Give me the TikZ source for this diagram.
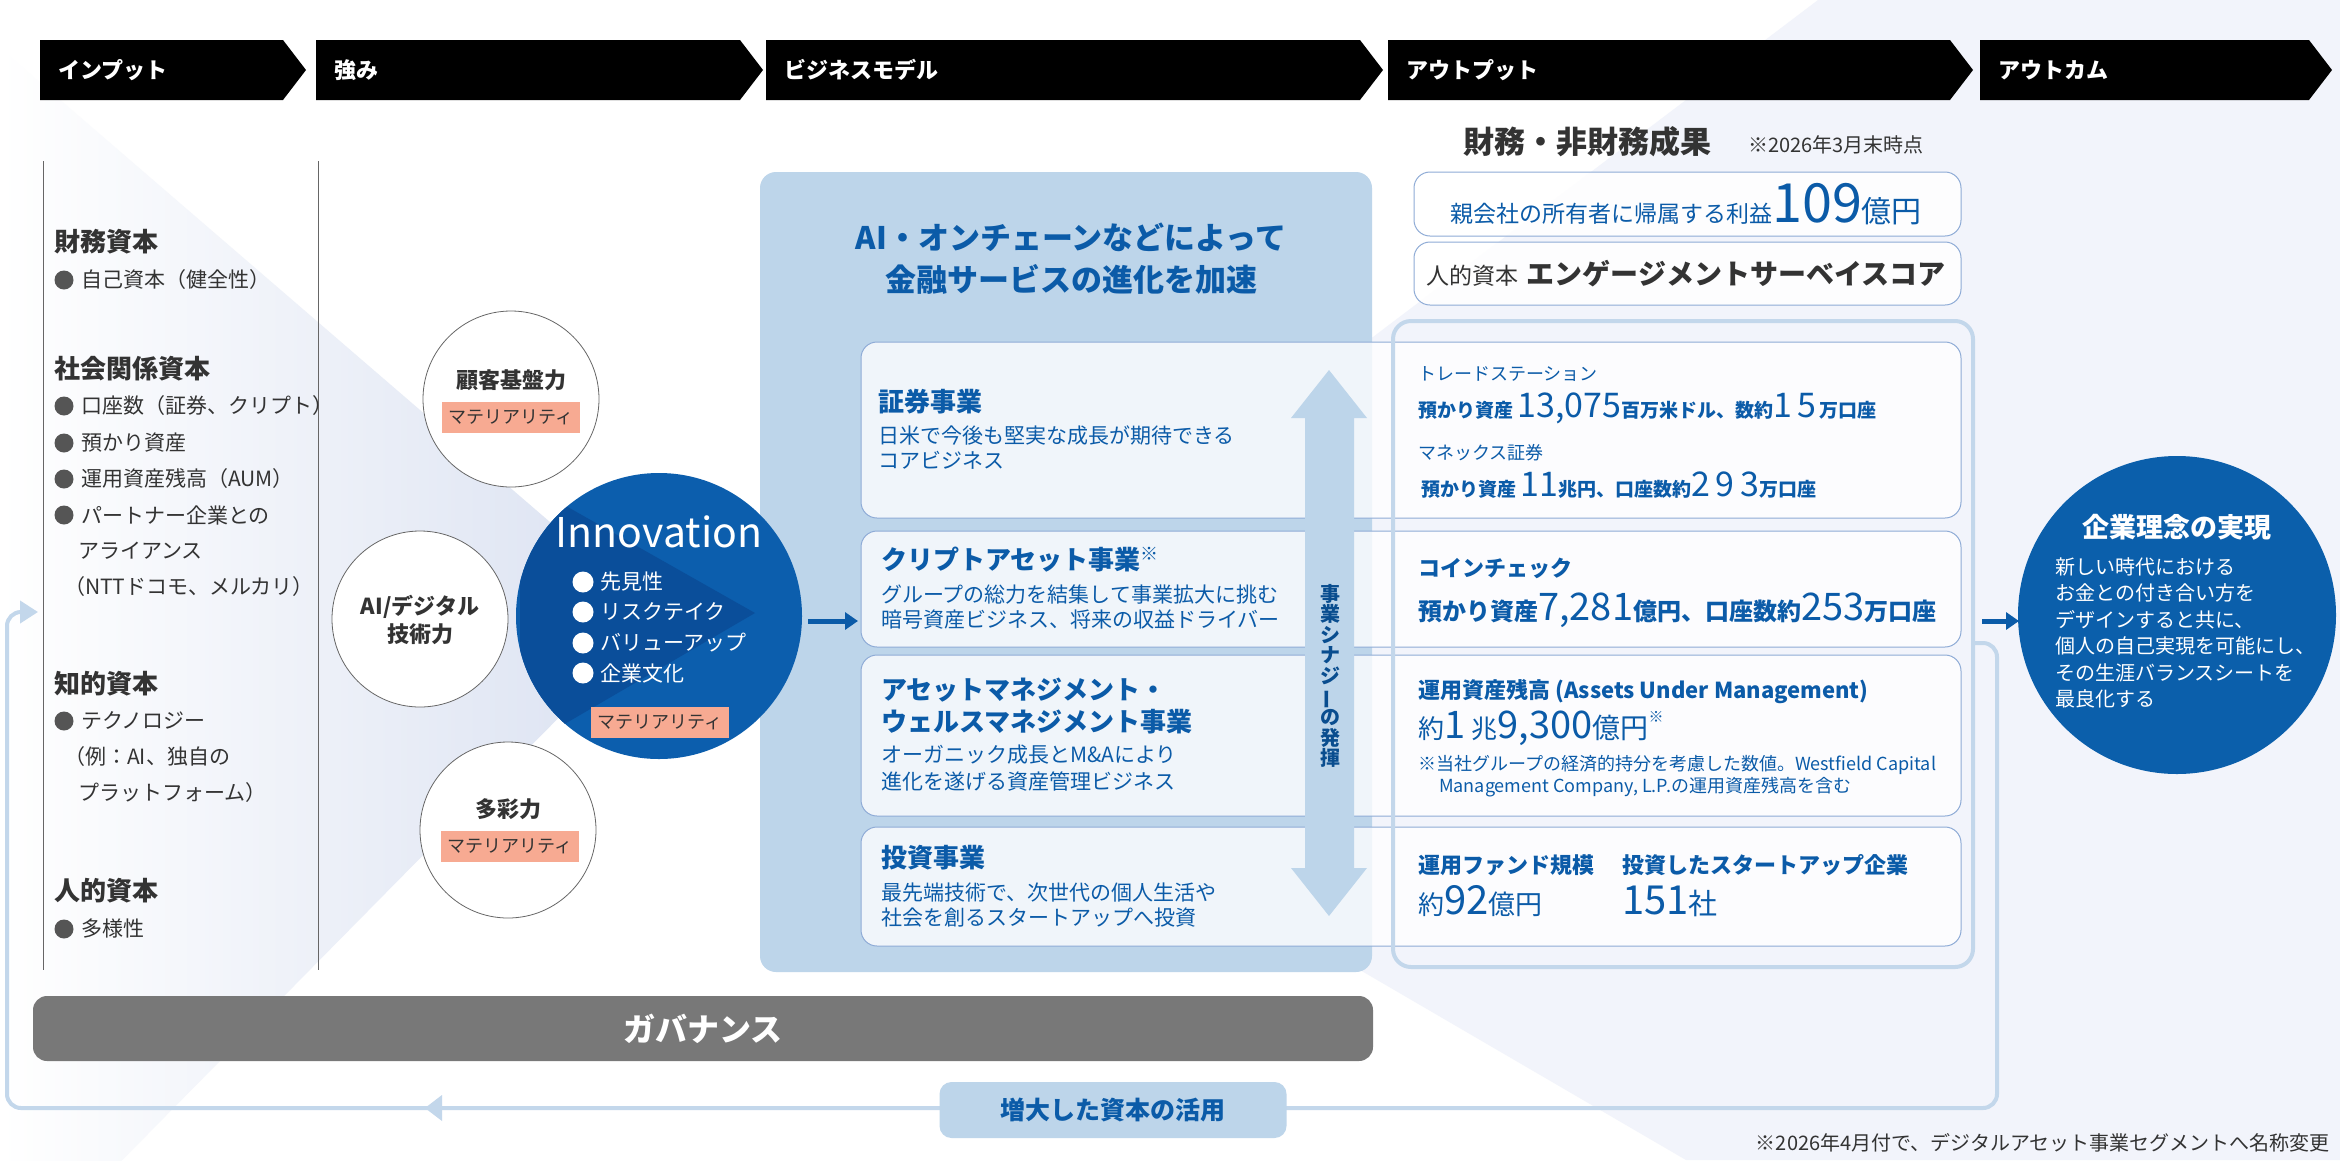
\documentclass[tikz,border=0pt]{standalone}
\usepackage{fontspec}
\setmainfont{Noto Sans CJK JP}
\usetikzlibrary{arrows.meta,calc}
\newcommand\fsz[2]{\fontsize{#1}{#2}\selectfont}
\definecolor{dblue}{HTML}{0B5BA8}
\definecolor{boxblue}{HTML}{BDD5EA}
\definecolor{rowborder}{HTML}{8EABD6}
\definecolor{framec}{HTML}{C3D7EB}
\definecolor{salmon}{HTML}{F7AA92}
\definecolor{govgray}{HTML}{787878}
\definecolor{txt}{HTML}{333333}
\definecolor{bulgray}{HTML}{555555}
\definecolor{innoblue}{HTML}{0C5EAD}
\definecolor{innodark}{HTML}{0A4E9A}
\definecolor{goalblue}{HTML}{0B5FAB}
\definecolor{lav}{HTML}{F2F4FB}
\definecolor{funnelc}{HTML}{DAE1F1}
\tikzset{
  hdrtxt/.style={anchor=west, text=white, font=\bfseries\fsz{22}{26}, inner sep=0pt},
  lhead/.style={anchor=west, text=txt, font=\bfseries\fsz{26}{30}, inner sep=0pt},
  lbody/.style={anchor=west, text=txt, font=\fsz{21}{25}, inner sep=0pt},
  strength/.style={circle, draw=gray!80!black, line width=0.8pt, fill=white, minimum size=176pt, inner sep=0pt},
  sttxt/.style={text=txt, font=\bfseries\fsz{22}{28}, align=center, inner sep=0pt},
  tagbox/.style={fill=salmon, minimum width=138pt, minimum height=31pt, inner sep=0pt, text=txt, font=\fsz{18}{20}},
  rowbox/.style={draw=rowborder, line width=1pt, fill=white, fill opacity=0.78, rounded corners=16pt, minimum width=1100pt, inner sep=0pt},
  topbox/.style={draw=rowborder, line width=1pt, fill=white, fill opacity=0.85, text opacity=1, rounded corners=16pt, minimum width=547pt, inner sep=0pt},
  bhead/.style={anchor=west, text=dblue, font=\bfseries\fsz{26}{32}, inner sep=0pt, align=left},
  bbody/.style={anchor=west, text=dblue, font=\fsz{21}{25}, inner sep=0pt, align=left},
  outtxt/.style={anchor=base west, text=dblue, inner sep=0pt},
  arrowblue/.style={-{Triangle[length=13pt,width=17pt]}, line width=5pt, draw=dblue},
  wbody/.style={anchor=west, text=white, font=\fsz{21}{25}, inner sep=0pt},
}
\newcommand\num[2]{{\mdseries\fsz{#1}{#1}#2}}
\begin{document}
\begin{tikzpicture}[x=1pt,y=-1pt]
\useasboundingbox (0,0) rectangle (2340,1160);
\fill[white] (0,0) rectangle (2340,1160);
% background shapes
\fill[lav] (1818,0) -- (2340,0) -- (2340,1160) -- (1686,1160) -- (895,699) -- cycle;
\shade[left color=white, right color=funnelc] (0,48) -- (659,616) -- (0,1284) -- cycle;

% header bars
\foreach \a/\b/\t/\n in {40/283/インプット/h1, 316/740/強み/h2, 766/1360/ビジネスモデル/h3, 1388/1950/アウトプット/h4, 1980/2309/アウトカム/h5} {
  \fill[black] (\a,40) -- (\b,40) -- (\b+23,70) -- (\b,100) -- (\a,100) -- cycle;
  \node[hdrtxt] (\n) at (\a+18,70) {\t};
}

% left column
\draw[gray!80!black, line width=1pt] (43,161) -- (43,970);
\draw[gray!80!black, line width=1pt] (318,161) -- (318,970);
\node[lhead] (k1) at (54,242) {財務資本};
\node[lhead] (k2) at (54,369) {社会関係資本};
\node[lhead] (k3) at (54,684) {知的資本};
\node[lhead] (k4) at (54,891) {人的資本};
\foreach \y/\t/\n in {280/自己資本（健全性）/b1, 406/口座数（証券、クリプト）/b2, 443/預かり資産/b3, 479/運用資産残高（AUM）/b4, 515/パートナー企業との/b5, 721/テクノロジー/b6, 929/多様性/b7} {
  \fill[bulgray] (64,\y) circle (9.5);
  \node[lbody] (\n) at (81,\y) {\t};
}
\node[lbody] (b5b) at (78,551) {アライアンス};
\node[lbody] (b5c) at (64,587) {（NTTドコモ、メルカリ）};
\node[lbody] (b6b) at (64,757) {（例：AI、独自の};
\node[lbody] (b6c) at (78,793) {プラットフォーム）};

% strengths
\node[strength] (c1) at (511,399) {};
\node[sttxt] (c1t) at (511,380) {顧客基盤力};
\node[tagbox] (c1m) at (511,417.5) {マテリアリティ};
\node[strength] (c2) at (420,619) {};
\node[sttxt] (c2t) at (420,620) {AI/デジタル\\技術力};
\node[strength] (c3) at (508,830) {};
\node[sttxt] (c3t) at (508,809) {多彩力};
\node[tagbox] (c3m) at (510,846.5) {マテリアリティ};

% business model box
\node[fill=boxblue, rounded corners=16pt, minimum width=612pt, minimum height=800pt, inner sep=0pt] (bm) at (1066,572) {};
\node[text=dblue, font=\bfseries\fsz{31}{42}, align=center] (bmt) at (1071,259) {AI・オンチェーンなどによって\\金融サービスの進化を加速};

% innovation circle
\node[circle, fill=innoblue, minimum size=286pt, inner sep=0pt] (inno) at (659,616) {};
\begin{scope}
  \clip (659,616) circle (143);
  \fill[innodark] (520,480) -- (755,613) -- (520,750) -- cycle;
\end{scope}
\node[text=white, font=\fsz{41}{44}, inner sep=0pt] (innot) at (659,532) {Innovation};
\foreach \y/\t/\n in {582/先見性/i1, 612/リスクテイク/i2, 643/バリューアップ/i3, 673/企業文化/i4} {
  \fill[white] (583,\y) circle (10.5);
  \node[wbody] (\n) at (600,\y) {\t};
}
\node[tagbox] (innom) at (660,722) {マテリアリティ};

% rows
\node[rowbox, minimum height=176pt] (r1) at (1411,430) {};
\node[rowbox, minimum height=116pt] (r2) at (1411,589) {};
\node[rowbox, minimum height=161pt] (r3) at (1411,735.5) {};
\node[rowbox, minimum height=119pt] (r4) at (1411,886.5) {};

% output frame
\node[draw=framec, line width=4pt, rounded corners=18pt, minimum width=580pt, minimum height=646pt, inner sep=0pt] (frame) at (1683,644) {};

% synergy arrow
\fill[boxblue] (1329,370) -- (1367,418) -- (1354,418) -- (1354,868) -- (1367,868) -- (1329,916) -- (1291,868) -- (1305,868) -- (1305,418) -- (1291,418) -- cycle;
\node[text=dblue!85!black, font=\bfseries\fsz{20}{20.6}, align=center, inner sep=0pt] (syn) at (1330,676) {事\\業\\シ\\ナ\\ジ\\\rotatebox[origin=c]{90}{ー}\\の\\発\\揮};

% business row texts
\node[bhead] (s1) at (878,402) {証券事業};
\node[bbody] (s1b) at (878,447.5) {日米で今後も堅実な成長が期待できる\\コアビジネス};
\node[bhead] (s2) at (881,560) {クリプトアセット事業{\mdseries\fsz{18}{18}\raisebox{9pt}{※}}};
\node[bbody] (s2b) at (881,607.5) {グループの総力を結集して事業拡大に挑む\\暗号資産ビジネス、将来の収益ドライバー};
\node[bhead] (s3) at (881,706) {アセットマネジメント・\\ウェルスマネジメント事業};
\node[bbody, font=\fsz{21}{27}] (s3b) at (881,768.5) {オーガニック成長とM\&Aにより\\進化を遂げる資産管理ビジネス};
\node[bhead] (s4) at (881,858) {投資事業};
\node[bbody] (s4b) at (881,905.5) {最先端技術で、次世代の個人生活や\\社会を創るスタートアップへ投資};

% output header
\node[anchor=west, text=txt, font=\bfseries\fsz{31}{34}, inner sep=0pt] (fin) at (1463,142) {財務・非財務成果};
\node[anchor=west, text=txt, font=\fsz{20}{22}, inner sep=0pt] (fin2) at (1748,145) {※2026年3月末時点};
\node[topbox, minimum height=64pt] (ta) at (1687.5,204) {};
\node[text=dblue, inner sep=0pt, anchor=base] (tat) at (1686,222) {\fsz{23}{25}親会社の所有者に帰属する利益{\fsz{54}{56}109}{\fsz{30}{32}億円}};
\node[topbox, minimum height=63pt] (tb) at (1687.5,273.5) {};
\node[text=txt, inner sep=0pt, anchor=base] (tbt) at (1686,284) {\fsz{23}{25}人的資本\hspace{8pt}{\bfseries\fsz{28}{30}エンゲージメントサーベイスコア}};

% output row 1
\node[outtxt, font=\fsz{18}{20}] (o1a) at (1418,380) {トレードステーション};
\node[outtxt, font=\bfseries\fsz{19}{22}] (o1b) at (1418,417) {預かり資産 \num{34}{13,075}百万米ドル、数約\num{34}{1\,5}\,万口座};
\node[outtxt, font=\fsz{18}{20}] (o1c) at (1418,459) {マネックス証券};
\node[outtxt, font=\bfseries\fsz{19}{22}] (o1d) at (1421,496) {預かり資産 \num{34}{11}兆円、口座数約\num{34}{2\,9\,3}万口座};
% output row 2
\node[outtxt, font=\bfseries\fsz{22}{24}] (o2a) at (1418,576) {コインチェック};
\node[outtxt, font=\bfseries\fsz{24}{27}] (o2b) at (1418,620) {預かり資産\num{38}{7,281}億円、口座数約\num{38}{253}万口座};
% output row 3
\node[outtxt, font=\bfseries\fsz{22}{24}] (o3a) at (1418,698) {運用資産残高 (Assets Under Management)};
\node[outtxt, font=\fsz{26}{28}] (o3b) at (1418,738) {約{\fsz{38}{40}1\,}兆{\fsz{38}{40}9,300}{\fsz{28}{30}億円}{\fsz{15}{16}\raisebox{16pt}{※}}};
\node[outtxt, font=\fsz{18}{20}] (o3c) at (1418,770) {※当社グループの経済的持分を考慮した数値。Westfield Capital};
\node[outtxt, font=\fsz{18}{20}] (o3d) at (1439,792) {Management Company, L.P.の運用資産残高を含む};
% output row 4
\node[outtxt, font=\bfseries\fsz{22}{24}] (o4a) at (1418,873) {運用ファンド規模};
\node[outtxt, font=\bfseries\fsz{22}{24}] (o4b) at (1622,873) {投資したスタートアップ企業};
\node[outtxt, font=\fsz{26}{28}] (o4c) at (1418,914) {約{\fsz{40}{42}92}{\fsz{27}{29}億円}};
\node[outtxt, font=\fsz{40}{42}] (o4d) at (1622,914) {151{\fsz{29}{30}社}};

% goal circle
\node[circle, fill=goalblue, minimum size=318pt, inner sep=0pt] (goal) at (2177,615) {};
\node[text=white, font=\bfseries\fsz{27}{30}, inner sep=0pt] (goalt) at (2177,527) {企業理念の実現};
\node[anchor=north west, text=white, font=\fsz{20}{26.5}, align=left, inner sep=0pt] (goalb) at (2055,557) {新しい時代における\\お金との付き合い方を\\デザインすると共に、\\個人の自己実現を可能にし、\\その生涯バランスシートを\\最良化する};

% arrows
\coordinate (ia) at (808,621);
\coordinate (ib) at (858,621);
\draw[arrowblue] (ia) -- (ib);
\coordinate (ga) at (1982,621);
\coordinate (gb) at (2019,621);
\draw[arrowblue] (ga) -- (gb);

% governance
\node[fill=govgray, rounded corners=14pt, minimum width=1340pt, minimum height=65pt, inner sep=0pt, text=white, font=\bfseries\fsz{32}{34}] (gov) at (703,1028.5) {ガバナンス};

% loop
\coordinate (l0) at (1975,643);
\coordinate (l1) at (7,612);
\draw[framec, line width=4pt, rounded corners=14pt, -{Triangle[length=18pt,width=22pt]}] (l0) -- (1997,643) -- (1997,1108) -- (7,1108) -- (7,612) -- (38,612);
\fill[framec] (425,1108) -- (442,1095) -- (442,1121) -- cycle;
\node[fill=boxblue, rounded corners=12pt, minimum width=347pt, minimum height=56pt, inner sep=0pt, text=dblue, font=\bfseries\fsz{25}{27}] (use) at (1113,1110) {増大した資本の活用};

% footnote
\node[anchor=east, text=txt, font=\fsz{20}{22}, inner sep=0pt] (fn) at (2330,1143) {※2026年4月付で、デジタルアセット事業セグメントへ名称変更};
\end{tikzpicture}
\end{document}
